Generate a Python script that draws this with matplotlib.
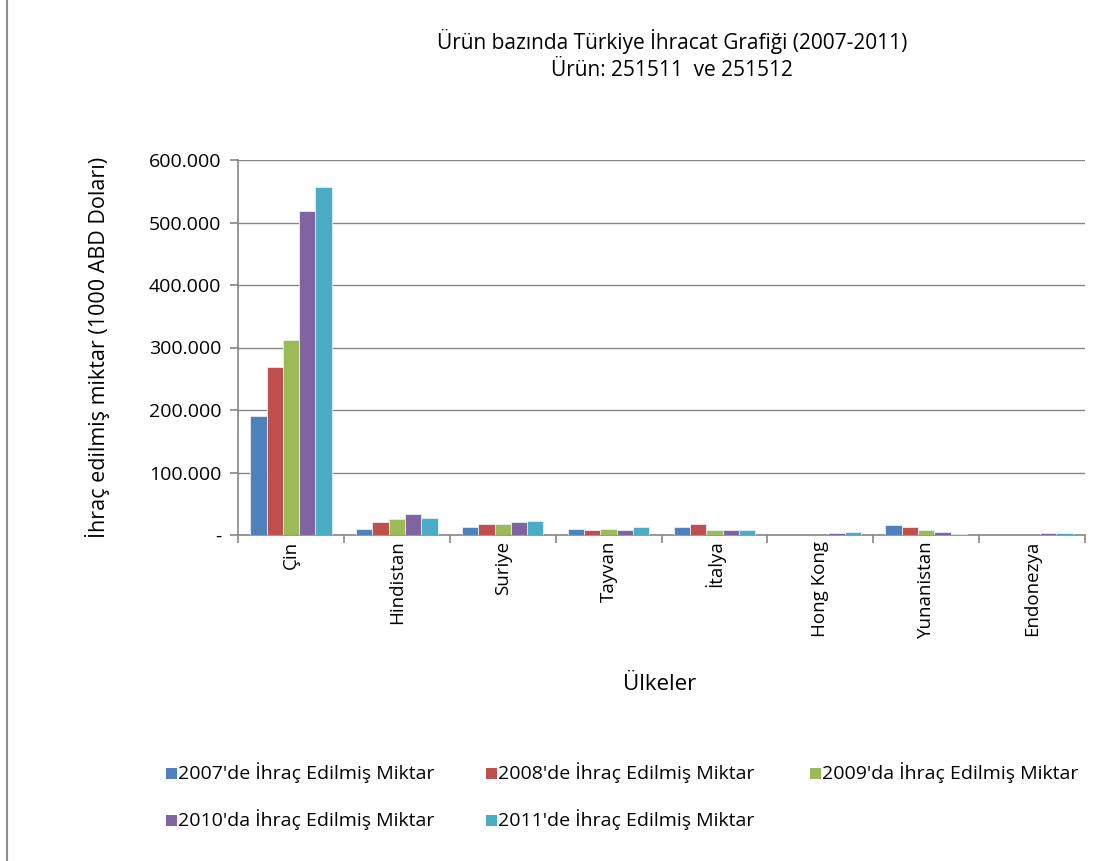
import numpy as np
import matplotlib.pyplot as plt
from matplotlib.lines import Line2D

# Data (1000 USD)
countries = ["Çin", "Hindistan", "Suriye", "Tayvan", "İtalya", "Hong Kong", "Yunanistan", "Endonezya"]
y2007 = [190000, 10000, 13000, 10000, 13000, 500, 15500, 500]
y2008 = [269000, 21000, 18000, 7500, 18000, 500, 12800, 500]
y2009 = [312000, 25500, 18000, 10000, 7500, 300, 7500, 300]
y2010 = [518000, 34000, 21000, 7500, 7500, 2700, 4800, 2700]
y2011 = [557000, 28000, 23000, 13000, 7500, 5300, 2000, 2700]
series_labels = [
    "2007'de İhraç Edilmiş Miktar",
    "2008'de İhraç Edilmiş Miktar",
    "2009'da İhraç Edilmiş Miktar",
    "2010'da İhraç Edilmiş Miktar",
    "2011'de İhraç Edilmiş Miktar",
]
y_ticks = [0, 100000, 200000, 300000, 400000, 500000, 600000]
y_tick_labels = ["-", "100.000", "200.000", "300.000", "400.000", "500.000", "600.000"]

colors = ["#4F81BD", "#C0504D", "#9BBB59", "#8064A2", "#4BACC6"]
plt.rcParams["font.family"] = ["Open Sans", "DejaVu Sans"]

W, H = 1104, 861
fig = plt.figure(figsize=(W / 100, H / 100), dpi=100)
ax = fig.add_axes([238 / W, 1 - 535 / H, (1085 - 238) / W, (535 - 160) / H])

# Outer chart border (only the left edge shows in the reference)
fig.add_artist(Line2D([7 / W, 7 / W], [0, 1], color="#8c8c8c", lw=1.5))

series = [y2007, y2008, y2009, y2010, y2011]
n = len(series)
width = 1 / (n + 1.5)
x = np.arange(len(countries))
for i, (vals, c, lab) in enumerate(zip(series, colors, series_labels)):
    offs = (i - (n - 1) / 2) * width
    ax.bar(x + offs, vals, width=width, color=c, edgecolor="#e6eef5", linewidth=0.6,
           label=lab, zorder=3)

ax.set_xlim(-0.5, len(countries) - 0.5)
ax.set_ylim(0, 600000)
ax.set_yticks(y_ticks)
ax.set_yticklabels(y_tick_labels, fontsize=14)
ax.grid(axis="y", color="#868686", linewidth=1, zorder=0)

# Category labels at centers, tick marks between groups
ax.set_xticks(x)
ax.set_xticklabels(countries, rotation=90, fontsize=13.5, va="top")
ax.tick_params(axis="x", length=0, pad=4)
ax.set_xticks(np.arange(-0.5, len(countries)), minor=True)
ax.tick_params(axis="x", which="minor", length=6, color="#868686", width=1.2, direction="out")
ax.tick_params(axis="y", length=6, color="#868686", width=1.2, direction="out", pad=6)

for side in ["top", "right"]:
    ax.spines[side].set_visible(False)
for side in ["left", "bottom"]:
    ax.spines[side].set_color("#868686")
    ax.spines[side].set_linewidth(1.2)

fig.text(672 / W, 1 - 42 / H, "Ürün bazında Türkiye İhracat Grafiği (2007-2011)",
         ha="center", va="center", fontsize=15)
fig.text(672 / W, 1 - 70 / H, "Ürün: 251511  ve 251512",
         ha="center", va="center", fontsize=15)
fig.text(98 / W, 1 - 347 / H, "İhraç edilmiş miktar (1000 ABD Doları)",
         ha="center", va="center", rotation=90, fontsize=15.5)
fig.text(660 / W, 1 - 685 / H, "Ülkeler", ha="center", va="center", fontsize=16)

# Legend: small squares and labels placed like the Excel legend
leg_pos = [(166, 773), (486, 773), (810, 773), (166, 820), (486, 820)]
for col, lab, (px, py) in zip(colors, series_labels, leg_pos):
    fig.patches.append(plt.Rectangle((px / W, 1 - (py + 6) / H), 11 / W, 11 / H,
                                     transform=fig.transFigure, facecolor=col, edgecolor="none"))
    fig.text((px + 12) / W, 1 - py / H, lab, ha="left", va="center", fontsize=14)

fig.savefig("out.png", dpi=100)
